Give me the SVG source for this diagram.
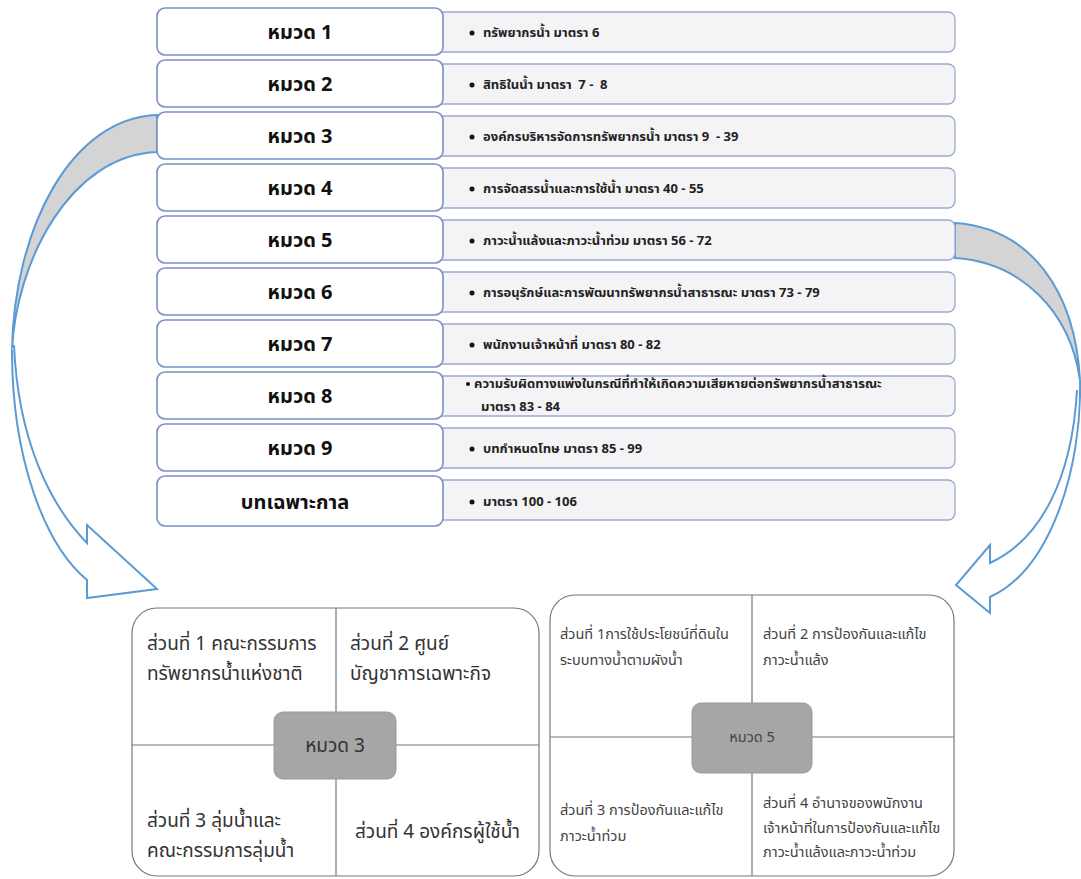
<svg xmlns="http://www.w3.org/2000/svg" width="1081" height="879" viewBox="0 0 1081 879">
<style>
.lb{fill:#fff;stroke:#7b8fc4;stroke-width:1.6}
.rb{fill:#f4f4f6;stroke:#9aa9d2;stroke-width:1.3}
.lt{font-family:"Noto Sans Thai","Noto Sans","DejaVu Sans",sans-serif;font-size:20px;font-weight:bold;fill:#111;text-anchor:middle}
.rt{font-family:"Noto Sans Thai","Noto Sans","DejaVu Sans",sans-serif;font-size:13px;font-weight:bold;fill:#222}
.bul{fill:#111}
.arr{stroke:#5b9bd5;stroke-width:2;fill:#fff;stroke-linejoin:miter}
.band{stroke:#5b9bd5;stroke-width:2;fill:#d4d4d4}
.qb{fill:#fff;stroke:#777;stroke-width:1.2}
.div{stroke:#777;stroke-width:1.2}
.cb{fill:#a6a6a6;stroke:#9a9a9a}
.qt{font-family:"Noto Sans Thai","Noto Sans","DejaVu Sans",sans-serif;font-size:19px;fill:#333}
.qs{font-family:"Noto Sans Thai","Noto Sans","DejaVu Sans",sans-serif;font-size:14.5px;fill:#444}
</style>
<g id="connectors">
<path class="band" d="M157,115 C70,118 14,230 12,350 C16,262 70,155 157,152 Z"/>
<path class="arr" d="M12,350 C12,460 45,545 87,580 L87,598 L157,589 L87,525 L87,543 C50,505 18,440 14,345"/>
<path class="band" d="M955,223 C1030,228 1075,290 1080,380 C1070,310 1020,262 955,258 Z"/>
<path class="arr" d="M1080,380 C1082,470 1050,570 990,597 L990,613 L956,585 L990,545 L990,563 C1040,540 1072,480 1077,390"/>
</g>
<g id="row1"><rect class="rb" x="420" y="12" width="535" height="40" rx="7"/><rect class="lb" x="157" y="8" width="286" height="47" rx="8"/><text class="lt" x="300" y="39">หมวด 1</text><circle class="bul" cx="472" cy="33" r="2.5"/><text class="rt" x="483" y="37">ทรัพยากรน้ำ มาตรา 6</text></g>
<g id="row2"><rect class="rb" x="420" y="64" width="535" height="40" rx="7"/><rect class="lb" x="157" y="60" width="286" height="47" rx="8"/><text class="lt" x="300" y="91">หมวด 2</text><circle class="bul" cx="472" cy="85" r="2.5"/><text class="rt" x="483" y="89" xml:space="preserve">สิทธิในน้ำ มาตรา  7 -  8</text></g>
<g id="row3"><rect class="rb" x="420" y="116" width="535" height="40" rx="7"/><rect class="lb" x="157" y="112" width="286" height="47" rx="8"/><text class="lt" x="300" y="143">หมวด 3</text><circle class="bul" cx="472" cy="137" r="2.5"/><text class="rt" x="483" y="141" xml:space="preserve">องค์กรบริหารจัดการทรัพยากรน้ำ มาตรา 9  - 39</text></g>
<g id="row4"><rect class="rb" x="420" y="168" width="535" height="40" rx="7"/><rect class="lb" x="157" y="164" width="286" height="47" rx="8"/><text class="lt" x="300" y="195">หมวด 4</text><circle class="bul" cx="472" cy="189" r="2.5"/><text class="rt" x="483" y="193">การจัดสรรน้ำและการใช้น้ำ มาตรา 40 - 55</text></g>
<g id="row5"><rect class="rb" x="420" y="220" width="535" height="40" rx="7"/><rect class="lb" x="157" y="216" width="286" height="47" rx="8"/><text class="lt" x="300" y="247">หมวด 5</text><circle class="bul" cx="472" cy="241" r="2.5"/><text class="rt" x="483" y="245">ภาวะน้ำแล้งและภาวะน้ำท่วม มาตรา 56 - 72</text></g>
<g id="row6"><rect class="rb" x="420" y="272" width="535" height="40" rx="7"/><rect class="lb" x="157" y="268" width="286" height="47" rx="8"/><text class="lt" x="300" y="299">หมวด 6</text><circle class="bul" cx="472" cy="293" r="2.5"/><text class="rt" x="483" y="297">การอนุรักษ์และการพัฒนาทรัพยากรน้ำสาธารณะ มาตรา 73 - 79</text></g>
<g id="row7"><rect class="rb" x="420" y="324" width="535" height="40" rx="7"/><rect class="lb" x="157" y="320" width="286" height="47" rx="8"/><text class="lt" x="300" y="351">หมวด 7</text><circle class="bul" cx="472" cy="345" r="2.5"/><text class="rt" x="483" y="349">พนักงานเจ้าหน้าที่ มาตรา 80 - 82</text></g>
<g id="row8"><rect class="rb" x="420" y="376" width="535" height="40" rx="7"/><rect class="lb" x="157" y="372" width="286" height="47" rx="8"/><text class="lt" x="300" y="403">หมวด 8</text><circle class="bul" cx="468" cy="384" r="2"/><text class="rt" x="474" y="388" font-size="11.3">ความรับผิดทางแพ่งในกรณีที่ทำให้เกิดความเสียหายต่อทรัพยากรน้ำสาธารณะ</text><text class="rt" x="481" y="411" font-size="11.3">มาตรา 83 - 84</text></g>
<g id="row9"><rect class="rb" x="420" y="428" width="535" height="40" rx="7"/><rect class="lb" x="157" y="424" width="286" height="47" rx="8"/><text class="lt" x="300" y="455">หมวด 9</text><circle class="bul" cx="472" cy="449" r="2.5"/><text class="rt" x="483" y="453">บทกำหนดโทษ มาตรา 85 - 99</text></g>
<g id="row10"><rect class="rb" x="420" y="480" width="535" height="40" rx="7"/><rect class="lb" x="157" y="476" width="286" height="50" rx="8"/><text class="lt" x="295" y="509">บทเฉพาะกาล</text><circle class="bul" cx="472" cy="502" r="2.5"/><text class="rt" x="483" y="506">มาตรา 100 - 106</text></g>
<g id="chapter3">
<rect class="qb" x="132" y="608" width="407" height="268" rx="25"/>
<line class="div" x1="336" y1="608" x2="336" y2="876"/>
<line class="div" x1="132" y1="745" x2="539" y2="745"/>
<rect class="cb" x="274" y="712" width="122" height="67" rx="9"/>
<text class="qt" x="335" y="752" text-anchor="middle" font-size="16">หมวด 3</text>
<text class="qt" x="147" y="650">ส่วนที่ 1 คณะกรรมการ</text>
<text class="qt" x="147" y="680">ทรัพยากรน้ำแห่งชาติ</text>
<text class="qt" x="350" y="650">ส่วนที่ 2 ศูนย์</text>
<text class="qt" x="350" y="680">บัญชาการเฉพาะกิจ</text>
<text class="qt" x="147" y="827">ส่วนที่ 3 ลุ่มน้ำและ</text>
<text class="qt" x="147" y="857">คณะกรรมการลุ่มน้ำ</text>
<text class="qt" x="355" y="838">ส่วนที่ 4 องค์กรผู้ใช้น้ำ</text>
</g>
<g id="chapter5">
<rect class="qb" x="550" y="595" width="404" height="281" rx="25"/>
<line class="div" x1="752" y1="595" x2="752" y2="876"/>
<line class="div" x1="550" y1="737" x2="954" y2="737"/>
<rect class="cb" x="692" y="703" width="120" height="70" rx="9"/>
<text class="qs" x="752" y="742" text-anchor="middle" font-size="12">หมวด 5</text>
<text class="qs" x="560" y="639">ส่วนที่ 1การใช้ประโยชน์ที่ดินใน</text>
<text class="qs" x="560" y="665">ระบบทางน้ำตามผังน้ำ</text>
<text class="qs" x="763" y="639">ส่วนที่ 2 การป้องกันและแก้ไข</text>
<text class="qs" x="763" y="665">ภาวะน้ำแล้ง</text>
<text class="qs" x="560" y="815">ส่วนที่ 3 การป้องกันและแก้ไข</text>
<text class="qs" x="560" y="841">ภาวะน้ำท่วม</text>
<text class="qs" x="763" y="808">ส่วนที่ 4 อำนาจของพนักงาน</text>
<text class="qs" x="763" y="833">เจ้าหน้าที่ในการป้องกันและแก้ไข</text>
<text class="qs" x="763" y="857">ภาวะน้ำแล้งและภาวะน้ำท่วม</text>
</g>
</svg>
